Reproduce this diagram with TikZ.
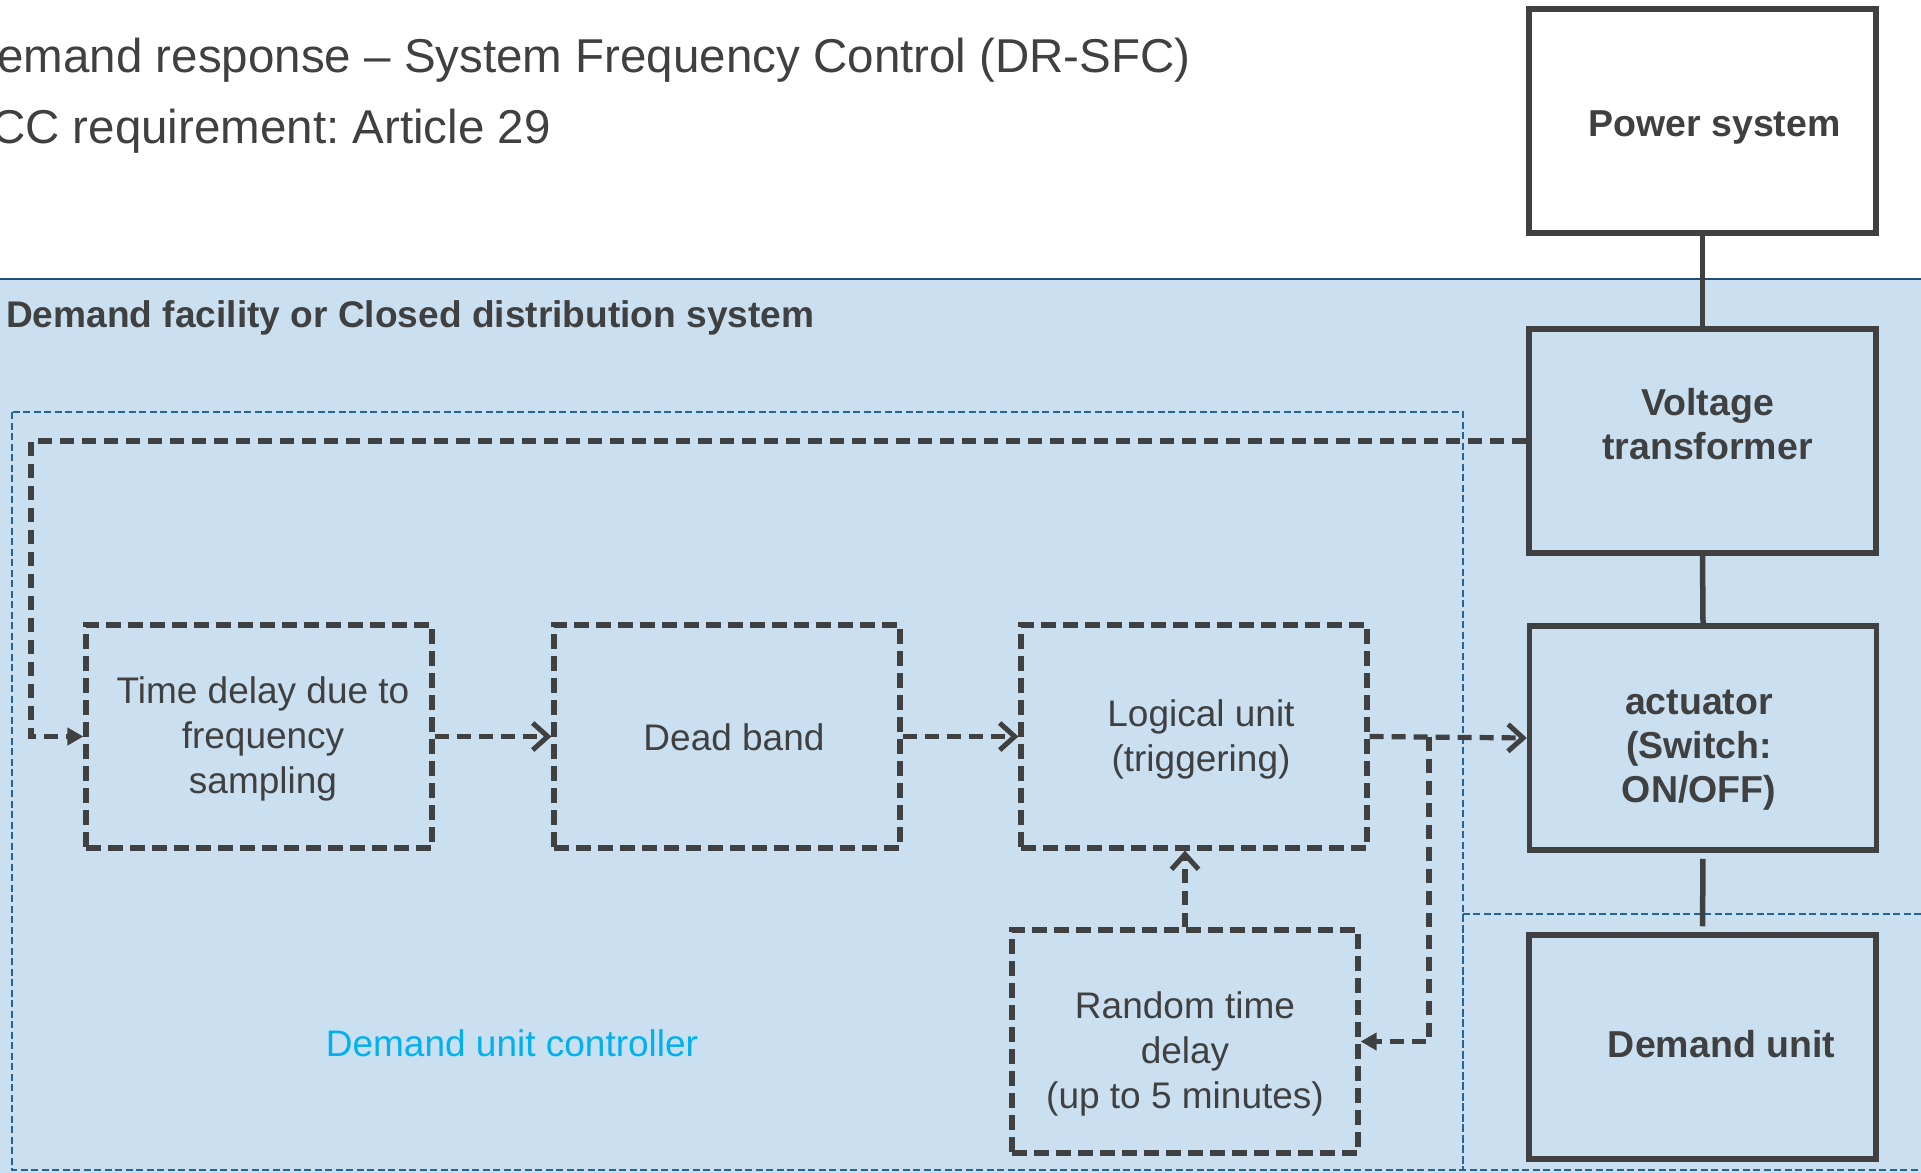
\documentclass[tikz,border=0pt]{standalone}
\usepackage{fontspec}
\setmainfont{Liberation Sans}
\usetikzlibrary{arrows.meta}
\definecolor{bgblue}{RGB}{202,224,240}
\definecolor{ink}{RGB}{64,64,64}
\definecolor{navy}{RGB}{31,78,121}
\definecolor{dashblue}{RGB}{36,100,150}
\definecolor{cyantext}{RGB}{0,176,240}
\frenchspacing
% shift the text of a box by dx (right) and dy (up) without changing the box
\newcommand{\boxtext}[3]{\hspace*{#1}\raisebox{#2}[\height][\depth]{\begin{tabular}{@{}c@{}}#3\end{tabular}}\hspace*{-#1}}
\begin{document}
\begin{tikzpicture}[x=1pt,y=-1pt,
  solidbox/.style={draw=ink, line width=5.5pt, minimum width=347pt, minimum height=224pt, inner sep=0pt, align=center, text=ink, font=\fontsize{37.5}{44}\selectfont\bfseries},
  dashbox/.style={draw=ink, line width=5.2pt, dash pattern=on 15pt off 7pt, minimum width=346pt, minimum height=223pt, inner sep=0pt, align=center, text=ink, font=\fontsize{37}{45}\selectfont},
  flow/.style={draw=ink, line width=5.2pt, dash pattern=on 14pt off 8pt},
  link/.style={draw=ink, line width=5.5pt},
  openhead/.style={-{Straight Barb[length=15pt,width=27pt,line width=5pt]}},
  filledhead/.style={-{Triangle[length=16pt,width=17pt]}},
  region/.style={draw=dashblue, line width=1.8pt, dash pattern=on 7pt off 3.5pt}
]
\path[use as bounding box] (0,0) rectangle (1921,1172);
\clip (0,0) rectangle (1921,1172);
\fill[white] (0,0) rectangle (1921,1172);
\fill[bgblue] (-10,279) rectangle (1931,1182);
\draw[navy, line width=2.5pt] (-10,279) -- (1931,279);
\draw[region] (12,412) rectangle (1463,1170);
\draw[region] (1463,914) rectangle (1940,1170);

% titles
\node[anchor=base east, inner sep=0pt, text=ink, font=\fontsize{47.5}{56}\selectfont] (title1) at (1191,73) {Demand response – System Frequency Control (DR-SFC)};
\node[anchor=base east, inner sep=0pt, text=ink, font=\fontsize{47.5}{56}\selectfont] (title2) at (551,143) {DCC requirement: Article 29};
\node[anchor=west, inner sep=0pt, text=ink, font=\fontsize{37.1}{44}\selectfont\bfseries] (facility) at (6,318) {Demand facility or Closed distribution system};
\node[inner sep=0pt, text=cyantext, font=\fontsize{37}{44}\selectfont] (duc) at (512,1043) {Demand unit controller};

% right column
\node[solidbox, fill=white] (ps) at (1702.5,121) {\boxtext{12pt}{-7pt}{Power system}};
\node[solidbox] (vt) at (1702.5,441) {\boxtext{5pt}{12pt}{Voltage\\transformer}};
\node[solidbox] (act) at (1703,738) {\boxtext{-4pt}{-12pt}{actuator\\(Switch:\\ON/OFF)}};
\node[solidbox] (du) at (1702.5,1047) {\boxtext{19pt}{-2pt}{Demand unit}};

% controller blocks
\node[dashbox] (b1) at (259,736.5) {\boxtext{4pt}{-3pt}{Time delay due to\\frequency\\sampling}};
\node[dashbox] (b2) at (727,736.5) {\boxtext{7pt}{-5pt}{Dead band}};
\node[dashbox] (b3) at (1194,736.5) {\boxtext{7pt}{-3pt}{Logical unit\\(triggering)}};
\node[dashbox] (b4) at (1185,1041.5) {\boxtext{0pt}{-13pt}{Random time\\delay\\(up to 5 minutes)}};

% solid links
\draw[link] (ps.south) -- (vt.north);
\draw[link] (vt.south) -- (act.north);
\draw[link, shorten <=6pt, shorten >=6pt] (act.south) -- (du.north);

% flows
\coordinate (fb) at (31,441);
\draw[flow, filledhead] (vt.west) -- (fb) |- (b1.west);
\draw[flow, openhead] (b1.east) -- (b2.west);
\draw[flow, openhead] (b2.east) -- (b3.west);
\draw[flow, openhead] (b3.east) -- (act.west);
\coordinate (br) at (1429,736.5);
\draw[flow, filledhead] (br) |- (b4.east);
\draw[flow, openhead] (b4.north) -- (b4.north |- b3.south);
\end{tikzpicture}
\end{document}
